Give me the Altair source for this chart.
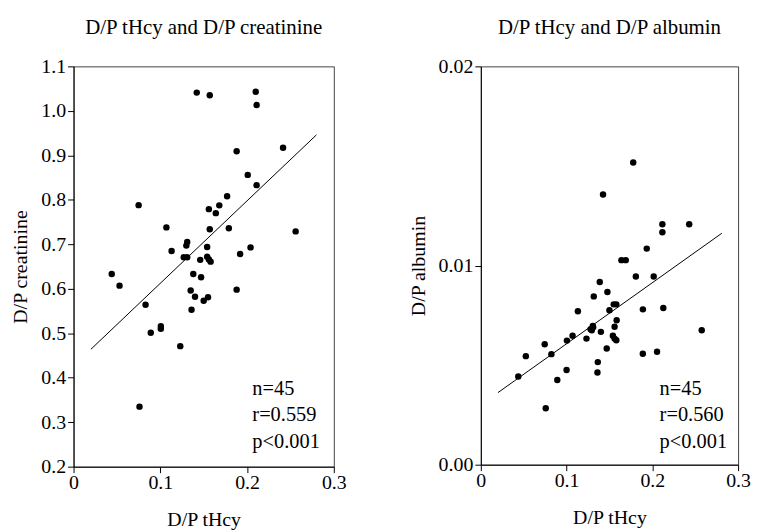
import altair as alt
import pandas as pd

# Left panel: D/P tHcy vs D/P creatinine
cre_x = [0.142, 0.157, 0.210, 0.211, 0.188, 0.2415, 0.2008, 0.211, 0.177, 0.075,
         0.156, 0.168, 0.164, 0.107, 0.157, 0.179, 0.256, 0.131, 0.130, 0.154,
         0.204, 0.113, 0.192, 0.127, 0.131, 0.146, 0.154, 0.158, 0.156, 0.044,
         0.138, 0.147, 0.053, 0.135, 0.140, 0.155, 0.150, 0.083, 0.188, 0.136,
         0.089, 0.1006, 0.1006, 0.123, 0.076]
cre_y = [1.041, 1.035, 1.043, 1.013, 0.909, 0.917, 0.856, 0.833, 0.808, 0.788,
         0.779, 0.7875, 0.770, 0.738, 0.734, 0.736, 0.729, 0.705, 0.697, 0.694,
         0.693, 0.685, 0.678, 0.671, 0.671, 0.665, 0.672, 0.661, 0.666, 0.633,
         0.633, 0.626, 0.607, 0.596, 0.582, 0.581, 0.573, 0.564, 0.598, 0.553,
         0.501, 0.516, 0.510, 0.471, 0.335]
cre_fit_x = [0.02, 0.28]
cre_fit_y = [0.464, 0.946]
cre_stats = ["n=45", "r=0.559", "p<0.001"]

# Right panel: D/P tHcy vs D/P albumin
alb_x = [0.1777, 0.1425, 0.2117, 0.2117, 0.243, 0.1935, 0.164, 0.169, 0.1808, 0.2016,
         0.1387, 0.1476, 0.1317, 0.155, 0.158, 0.150, 0.189, 0.2128, 0.1132, 0.1584,
         0.1306, 0.1294, 0.156, 0.140, 0.2576, 0.1232, 0.107, 0.1004, 0.154, 0.156,
         0.158, 0.0745, 0.0525, 0.0823, 0.1468, 0.1889, 0.2055, 0.1364, 0.136, 0.100,
         0.0437, 0.0892, 0.0757, 0.128, 0.131]
alb_y = [0.01517, 0.01357, 0.01207, 0.01167, 0.01207, 0.01085, 0.01027, 0.01027, 0.00945, 0.00945,
         0.00917, 0.00867, 0.00845, 0.00805, 0.00805, 0.00775, 0.00780, 0.00787, 0.00770, 0.00725,
         0.00697, 0.00675, 0.00693, 0.00667, 0.00675, 0.00633, 0.00647, 0.00623, 0.00647, 0.00633,
         0.00625, 0.00605, 0.00545, 0.00555, 0.00583, 0.00557, 0.00567, 0.00515, 0.00463, 0.00475,
         0.00443, 0.00425, 0.00283, 0.00680, 0.00690]
alb_fit_x = [0.02, 0.281]
alb_fit_y = [0.00362, 0.01162]
alb_stats = ["n=45", "r=0.560", "p<0.001"]

FONT = "Liberation Serif"


def panel(xv, yv, fx, fy, stats, title, ytitle, ydomain, yticks, yfmt, w, h, ytpad):
    pts = pd.DataFrame({"x": xv, "y": yv})
    fit = pd.DataFrame({"x": fx, "y": fy})
    txt = pd.DataFrame({"t": ["\n".join(stats)]})
    xenc = alt.X("x:Q",
                 scale=alt.Scale(domain=[0, 0.3], nice=False, zero=False),
                 axis=alt.Axis(values=[0, 0.1, 0.2, 0.3], title="D/P tHcy",
                               labelExpr="datum.value == 0 ? '0' : format(datum.value, '.1f')",
                               labelPadding=0, titlePadding=17))
    yenc = alt.Y("y:Q",
                 scale=alt.Scale(domain=ydomain, nice=False, zero=False),
                 axis=alt.Axis(values=yticks, format=yfmt, title=ytitle, titlePadding=ytpad))
    p = alt.Chart(pts).mark_circle(size=42, color="black", opacity=1).encode(x=xenc, y=yenc)
    l = alt.Chart(fit).mark_line(color="black", strokeWidth=1).encode(x="x:Q", y="y:Q")
    t = alt.Chart(txt).mark_text(font=FONT, fontSize=20.5, align="left", baseline="top",
                                 lineBreak="\n", lineHeight=26.5, color="black").encode(
        text="t:N", x=alt.value(180), y=alt.value(315))
    return alt.layer(p, l, t).properties(
        width=w, height=h,
        title=alt.TitleParams(title, font=FONT, fontSize=21, fontWeight="normal",
                              color="black", offset=19))


left = panel(cre_x, cre_y, cre_fit_x, cre_fit_y, cre_stats,
             "D/P tHcy and D/P creatinine", "D/P creatinine",
             [0.2, 1.1], [0.2, 0.3, 0.4, 0.5, 0.6, 0.7, 0.8, 0.9, 1.0, 1.1], ".1f", 262, 403, 10)
right = panel(alb_x, alb_y, alb_fit_x, alb_fit_y, alb_stats,
              "D/P tHcy and D/P albumin", "D/P albumin",
              [0.0, 0.02], [0.0, 0.01, 0.02], ".2f", 259, 401, 10)

chart = alt.hconcat(left, right, spacing=61).configure(
    padding={"left": 2, "top": 6, "right": 0, "bottom": 0}
).configure_view(
    stroke="#444", strokeWidth=1
).configure_axis(
    labelFont=FONT, labelFontSize=20, labelColor="black", labelFlush=False,
    titleFont=FONT, titleFontSize=20, titleFontWeight="normal", titleColor="black",
    grid=False, domainColor="black", tickColor="black", tickSize=6, labelPadding=2
)

chart.save("out.html", embed_options={"renderer": "svg", "actions": False})
